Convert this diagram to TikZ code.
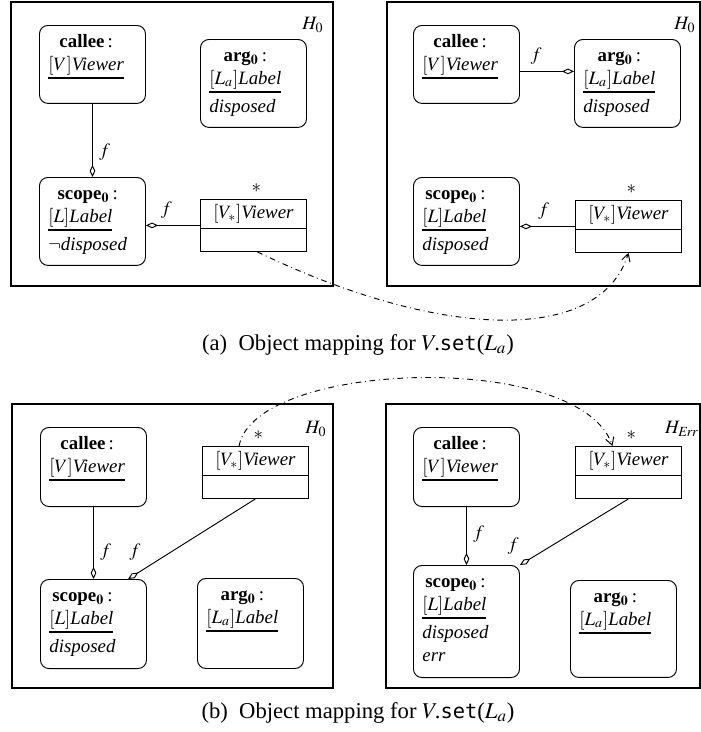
\documentclass[tikz,border=0pt]{standalone}
\usepackage{mathptmx}
\usepackage{fontspec}
\setmainfont{Liberation Serif}
\setmonofont[Scale=0.9]{DejaVu Sans Mono}
\usetikzlibrary{arrows.meta,shapes}

\newsavebox{\clsbox}
\newcommand{\hdr}[1]{\multicolumn{1}{@{}c@{}}{\textbf{#1}\,:}}
\newcommand{\clsline}[1]{\sbox{\clsbox}{#1}\rlap{\rule[-4.6pt]{\wd\clsbox}{0.9pt}}\usebox{\clsbox}}

\tikzset{
  obj/.style={draw, rounded corners=4.5pt, anchor=north west, inner sep=0pt, minimum width=56.2pt, line width=0.5pt},
  objtxt/.style={anchor=north west, inner sep=0pt},
  cls/.style={draw, rectangle split, rectangle split parts=2, anchor=north west, minimum width=56.2pt, inner ysep=1.4pt, line width=0.5pt, label={[xshift=1.5pt]above:$*$}},
  agg/.style={-{Diamond[open,length=6.4pt,width=3pt]}, line width=0.5pt},
  mapto/.style={-{Straight Barb[length=4pt,width=4.5pt]}, dash dot, line width=0.5pt},
  heap/.style={line width=0.9pt},
}

\begin{document}
\begin{tikzpicture}[x=0.53pt, y=-0.53pt]
      \useasboundingbox (0,0) rectangle (701,732);
      % (a)
      \draw [heap] (11,2) rectangle (333,286);
      \draw [heap] (387,2) rectangle (700,286);
      \node (hA) at (313,25) {$H_0$};
      \node (hB) at (685,25) {$H_0$};

      \node [obj, minimum height=41.3pt] (calleeA) at (39,25) {};
      \node [obj, minimum height=46.6pt] (argA) at (200,39) {};
      \node [obj, minimum height=46.6pt] (scopeA) at (39,177) {};
      \node [cls] (viewA) at (200,199) {$[V_*]$\textit{Viewer}\strut \nodepart{two}\rule{0pt}{8.9pt}};
      \node [objtxt] (calleeA-t) at ([xshift=4.8pt,yshift=-3.3pt]calleeA.north west) {\begin{tabular}{@{}l@{}}\hdr{callee}\\ \clsline{$[V]$\textit{Viewer}}\end{tabular}};
      \node [objtxt] (argA-t) at ([xshift=4.8pt,yshift=-3.3pt]argA.north west) {\begin{tabular}{@{}l@{}}\hdr{arg$_{\mathbf{0}}$}\\ \clsline{$[L_a]$\textit{Label}}\\[3pt] \textit{disposed}\end{tabular}};
      \node [objtxt] (scopeA-t) at ([xshift=4.8pt,yshift=-3.3pt]scopeA.north west) {\begin{tabular}{@{}l@{}}\hdr{scope$_{\mathbf{0}}$}\\ \clsline{$[L]$\textit{Label}}\\[3pt] $\neg$\textit{disposed}\end{tabular}};

      \node [obj, minimum height=41.3pt] (calleeB) at (413,25) {};
      \node [obj, minimum height=46.6pt] (argB) at (574,39) {};
      \node [obj, minimum height=46.6pt] (scopeB) at (413,177) {};
      \node [cls] (viewB) at (575,200) {$[V_*]$\textit{Viewer}\strut \nodepart{two}\rule{0pt}{8.9pt}};
      \node [objtxt] (calleeB-t) at ([xshift=4.8pt,yshift=-3.3pt]calleeB.north west) {\begin{tabular}{@{}l@{}}\hdr{callee}\\ \clsline{$[V]$\textit{Viewer}}\end{tabular}};
      \node [objtxt] (argB-t) at ([xshift=4.8pt,yshift=-3.3pt]argB.north west) {\begin{tabular}{@{}l@{}}\hdr{arg$_{\mathbf{0}}$}\\ \clsline{$[L_a]$\textit{Label}}\\[3pt] \textit{disposed}\end{tabular}};
      \node [objtxt] (scopeB-t) at ([xshift=4.8pt,yshift=-3.3pt]scopeB.north west) {\begin{tabular}{@{}l@{}}\hdr{scope$_{\mathbf{0}}$}\\ \clsline{$[L]$\textit{Label}}\\[3pt] \textit{disposed}\end{tabular}};

      \coordinate (fB) at ([yshift=-3.7pt]calleeB.east);
      \path
      (calleeA) edge [agg] node[pos=0.66,right] {$f$} (scopeA)
      (viewA.west) edge [agg] node[pos=0.62,above] {$f$} (viewA.west -| scopeA.east)
      (fB) edge [agg] node[pos=0.3,above] {$f$} (fB -| argB.west)
      (viewB.west) edge [agg] node[pos=0.57,above] {$f$} (viewB.west -| scopeB.east)
      ;
      \draw [mapto] ([xshift=2pt]viewA.south) .. controls (440,340) and (600,345) .. (viewB.south);
      \node (capA) at (358,345) {\fontsize{12}{14}\selectfont (a)\enspace Object mapping for $V$\kern-1.5pt.\texttt{set}($L_a$)};

      % (b)
      \draw [heap] (12,404) rectangle (333,688);
      \draw [heap] (386,404) rectangle (700,688);
      \node (hC) at (316,429) {$H_0$};
      \node (hD) at (682,429) {$H_{\mathit{Err}}$};

      \node [obj, minimum height=41.9pt] (calleeC) at (40,427) {};
      \node [cls] (viewC) at (202,446) {$[V_*]$\textit{Viewer}\strut \nodepart{two}\rule{0pt}{8.9pt}};
      \node [obj, minimum height=47.2pt] (scopeC) at (40,579) {};
      \node [obj, minimum height=47.7pt] (argC) at (197,578) {};
      \node [objtxt] (calleeC-t) at ([xshift=4.8pt,yshift=-3.3pt]calleeC.north west) {\begin{tabular}{@{}l@{}}\hdr{callee}\\ \clsline{$[V]$\textit{Viewer}}\end{tabular}};
      \node [objtxt] (scopeC-t) at ([xshift=4.8pt,yshift=-3.3pt]scopeC.north west) {\begin{tabular}{@{}l@{}}\hdr{scope$_{\mathbf{0}}$}\\ \clsline{$[L]$\textit{Label}}\\[3pt] \textit{disposed}\end{tabular}};
      \node [objtxt] (argC-t) at ([xshift=4.8pt,yshift=-3.3pt]argC.north west) {\begin{tabular}{@{}l@{}}\hdr{arg$_{\mathbf{0}}$}\\ \clsline{$[L_a]$\textit{Label}}\end{tabular}};

      \node [obj, minimum height=41.9pt] (calleeD) at (413,427) {};
      \node [cls] (viewD) at (575,446) {$[V_*]$\textit{Viewer}\strut \nodepart{two}\rule{0pt}{8.9pt}};
      \node [obj, minimum height=59.4pt] (scopeD) at (413,565) {};
      \node [obj, minimum height=51.4pt] (argD) at (570,580) {};
      \node [objtxt] (calleeD-t) at ([xshift=4.8pt,yshift=-3.3pt]calleeD.north west) {\begin{tabular}{@{}l@{}}\hdr{callee}\\ \clsline{$[V]$\textit{Viewer}}\end{tabular}};
      \node [objtxt] (scopeD-t) at ([xshift=4.8pt,yshift=-3.3pt]scopeD.north west) {\begin{tabular}{@{}l@{}}\hdr{scope$_{\mathbf{0}}$}\\ \clsline{$[L]$\textit{Label}}\\[3pt] \textit{disposed}\\ \textit{err}\end{tabular}};
      \node [objtxt] (argD-t) at ([xshift=4.8pt,yshift=-3.3pt]argD.north west) {\begin{tabular}{@{}l@{}}\hdr{arg$_{\mathbf{0}}$}\\ \clsline{$[L_a]$\textit{Label}}\end{tabular}};

      \path
      (calleeC) edge [agg] node[pos=0.63,right] {$f$} (scopeC)
      (viewC.south) edge [agg] node[pos=0.85,above left] {$f$} ([xshift=-10pt]scopeC.north east)
      (calleeD) edge [agg] node[pos=0.47,right] {$f$} (scopeD)
      (viewD.south) edge [agg] node[pos=0.95,above left] {$f$} (scopeD.north east)
      ;
      \draw [mapto] ([xshift=-8.7pt]viewC.north) .. controls (255,360) and (580,350) .. ([xshift=-8.5pt]viewD.north);
      \node (capB) at (358,713) {\fontsize{12}{14}\selectfont (b)\enspace Object mapping for $V$\kern-1.5pt.\texttt{set}($L_a$)};
\end{tikzpicture}
\end{document}
